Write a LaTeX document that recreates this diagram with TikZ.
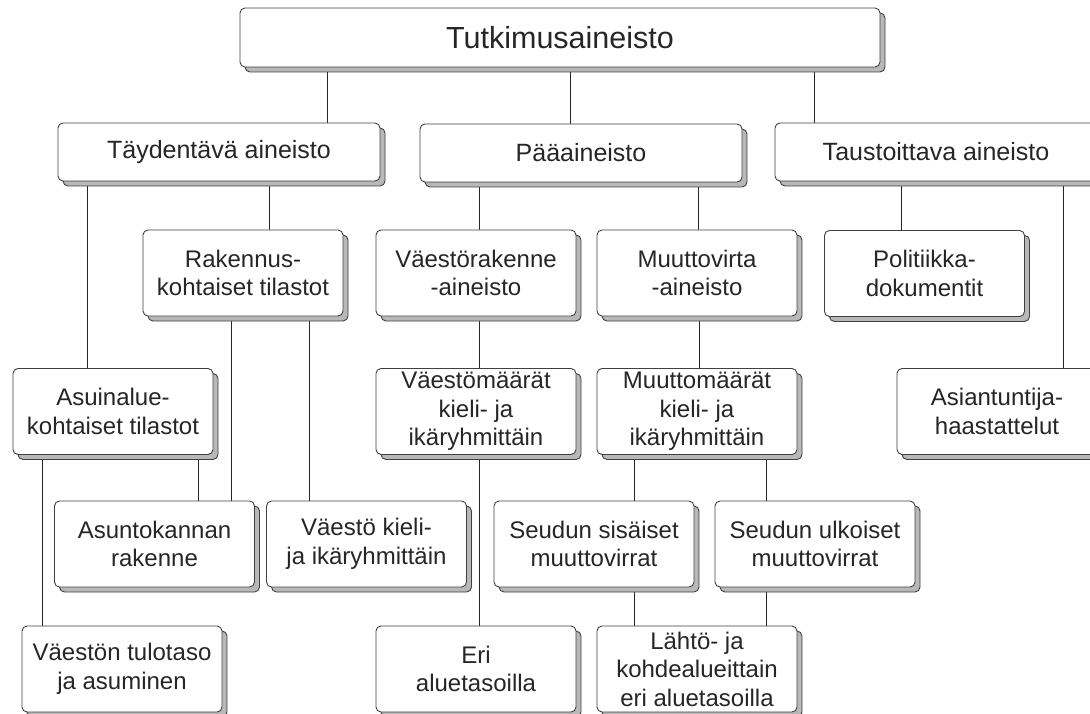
\documentclass[tikz,border=0pt]{standalone}
\usepackage{fontspec}
\setmainfont{Liberation Sans}
\usetikzlibrary{shadows}
\usetikzlibrary{backgrounds}

\tikzset{
  box/.style = {draw=black!75, fill=white, rounded corners=5pt, align=center,
    text=black!85, inner sep=0pt, line width=0.9pt,
    minimum width=200pt, minimum height=86pt,
    font=\fontsize{24}{28.5}\selectfont,
    general shadow={fill=black!28, draw=black!75, line width=0.9pt,
      shadow xshift=5pt, shadow yshift=-5pt}},
  widebox/.style = {box, minimum width=322pt, minimum height=58pt,
    font=\fontsize{25}{29}\selectfont},
  link/.style = {draw=black!85, line width=0.9pt}
}

\begin{document}
\begin{tikzpicture}[x = 1pt, y = -1pt]
            \useasboundingbox (0, 0) rectangle (1090, 714);
            % top level
            \node [box, minimum width=640pt, minimum height=59pt, font=\fontsize{30.5}{34}\selectfont] (top) at (560, 37.5) {Tutkimusaineisto};
            \node [widebox] (tay) at (219, 152) {Täydentävä aineisto};
            \node [widebox] (paa) at (581, 153) {Pääaineisto};
            \node [widebox] (tau) at (936, 152) {Taustoittava aineisto};
            % third row
            \node [box] (rak) at (243, 273) {Rakennus-\\kohtaiset tilastot};
            \node [box] (vrak) at (476, 273) {Väestörakenne\\-aineisto};
            \node [box] (mvir) at (697, 273) {Muuttovirta\\-aineisto};
            \node [box] (pol) at (924.5, 273.5) {Politiikka-\\dokumentit};
            % fourth row
            \node [box] (asu) at (113, 411.5) {Asuinalue-\\kohtaiset tilastot};
            \node [box] (vmaa) at (476, 411.5) {Väestömäärät\\kieli- ja\\ikäryhmittäin};
            \node [box] (mmaa) at (697, 411.5) {Muuttomäärät\\kieli- ja\\ikäryhmittäin};
            \node [box] (asi) at (997, 411.5) {Asiantuntija-\\haastattelut};
            % fifth row
            \node [box] (asun) at (154.5, 544) {Asuntokannan\\rakenne};
            \node [box] (vkie) at (366.5, 544) {Väestö kieli-\\ja ikäryhmittäin};
            \node [box] (ssis) at (594, 544) {Seudun sisäiset\\muuttovirrat};
            \node [box] (sulk) at (815, 544) {Seudun ulkoiset\\muuttovirrat};
            % bottom row
            \node [box] (tulo) at (122, 669) {Väestön tulotaso\\ja asuminen};
            \node [box] (eri) at (476, 669) {Eri\\aluetasoilla};
            \node [box] (lah) at (697, 669) {Lähtö- ja\\kohdealueittain\\eri aluetasoilla};
            \begin{scope}[on background layer]
                \draw [link] (top.south -| 327, 0) -- (tay.north -| 327, 0);
                \draw [link] (top.south -| 570, 0) -- (paa.north -| 570, 0);
                \draw [link] (top.south -| 814, 0) -- (tau.north -| 814, 0);
                \draw [link] (tay.south -| 87, 0) -- (asu.north -| 87, 0);
                \draw [link] (tay.south -| 269, 0) -- (rak.north -| 269, 0);
                \draw [link] (paa.south -| 479, 0) -- (vrak.north -| 479, 0);
                \draw [link] (paa.south -| 698, 0) -- (mvir.north -| 698, 0);
                \draw [link] (tau.south -| 901, 0) -- (pol.north -| 901, 0);
                \draw [link] (tau.south -| 1063, 0) -- (asi.north -| 1063, 0);
                \draw [link] (rak.south -| 231, 0) -- (asun.north -| 231, 0);
                \draw [link] (rak.south -| 309, 0) -- (vkie.north -| 309, 0);
                \draw [link] (vrak.south -| 479, 0) -- (vmaa.north -| 479, 0);
                \draw [link] (mvir.south -| 699, 0) -- (mmaa.north -| 699, 0);
                \draw [link] (asu.south -| 42, 0) -- (tulo.north -| 42, 0);
                \draw [link] (asu.south -| 198, 0) -- (asun.north -| 198, 0);
                \draw [link] (vmaa.south -| 479, 0) -- (eri.north -| 479, 0);
                \draw [link] (mmaa.south -| 634, 0) -- (ssis.north -| 634, 0);
                \draw [link] (mmaa.south -| 766, 0) -- (sulk.north -| 766, 0);
                \draw [link] (ssis.south -| 634, 0) -- (lah.north -| 634, 0);
                \draw [link] (sulk.south -| 766, 0) -- (lah.north -| 766, 0);
            \end{scope}
        \end{tikzpicture}
\end{document}
